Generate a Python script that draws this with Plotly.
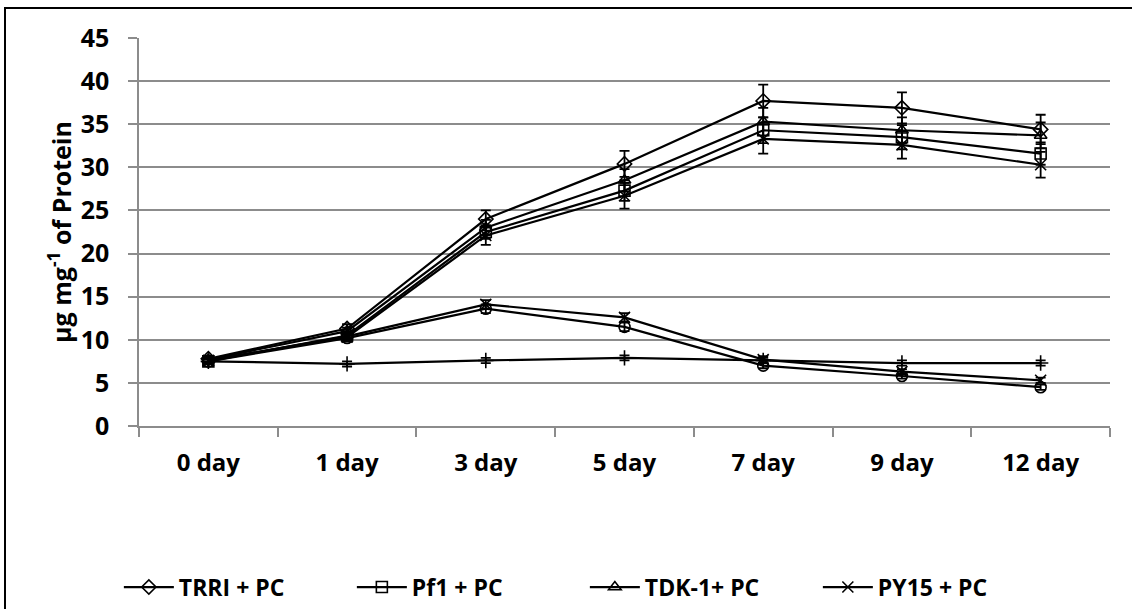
import plotly.graph_objects as go

days = ["0 day", "1 day", "3 day", "5 day", "7 day", "9 day", "12 day"]

trri_pc = [7.8, 11.3, 24.0, 30.4, 37.7, 36.9, 34.4]
trri_pc_err = [0.3, 0.5, 1.0, 1.5, 1.9, 1.8, 1.7]
pf1_pc = [7.5, 10.5, 22.5, 27.3, 34.3, 33.5, 31.6]
pf1_pc_err = [0.3, 0.4, 0.8, 1.2, 1.5, 1.4, 1.3]
tdk1_pc = [7.7, 11.0, 23.0, 28.5, 35.3, 34.3, 33.7]
tdk1_pc_err = [0.3, 0.4, 0.9, 1.3, 1.6, 1.5, 1.5]
py15_pc = [7.6, 10.3, 22.1, 26.7, 33.3, 32.6, 30.3]
py15_pc_err = [0.3, 0.4, 1.1, 1.5, 1.7, 1.6, 1.5]

lower_x = [7.6, 10.4, 14.1, 12.6, 7.7, 6.3, 5.3]
lower_x_err = [0.3, 0.4, 0.5, 0.5, 0.4, 0.3, 0.3]
lower_circle = [7.5, 10.2, 13.6, 11.5, 7.0, 5.8, 4.5]
lower_circle_err = [0.3, 0.4, 0.5, 0.5, 0.3, 0.3, 0.3]
control = [7.5, 7.2, 7.6, 7.9, 7.6, 7.3, 7.3]
control_err = [0.3, 0.3, 0.3, 0.3, 0.3, 0.3, 0.3]

y_ticks = [0, 5, 10, 15, 20, 25, 30, 35, 40, 45]

series = [
    ("TRRI + PC", trri_pc, trri_pc_err, "diamond-open", True),
    ("Pf1 + PC", pf1_pc, pf1_pc_err, "square-open", True),
    ("TDK-1+ PC", tdk1_pc, tdk1_pc_err, "triangle-up-open", True),
    ("PY15 + PC", py15_pc, py15_pc_err, "x-thin-open", True),
    ("series5", lower_x, lower_x_err, "x-thin-open", False),
    ("series6", lower_circle, lower_circle_err, "circle-open", False),
    ("series7", control, control_err, "cross-thin-open", False),
]

fig = go.Figure()
for name, vals, errs, sym, show in series:
    fig.add_trace(go.Scatter(
        x=days, y=vals, name=name, mode="lines+markers",
        showlegend=show,
        line=dict(color="black", width=2.2),
        marker=dict(symbol=sym, size=11, color="black",
                    line=dict(color="black", width=1.6)),
        error_y=dict(type="data", array=errs, visible=True,
                     color="black", thickness=1.8, width=5),
    ))

font_family = "Open Sans, Lato, DejaVu Sans, sans-serif"

W, H = 1132, 609
fig.update_layout(
    width=W, height=H,
    margin=dict(l=139, r=22, t=38, b=183, autoexpand=False),
    paper_bgcolor="white", plot_bgcolor="white",
    font=dict(family=font_family, color="black", size=22),
    showlegend=True,
    legend=dict(orientation="h", xref="container", yref="container",
                x=0.105, xanchor="left", y=0.036, yanchor="middle",
                font=dict(size=23, family=font_family, weight="bold"),
                entrywidth=168, itemwidth=50),
    xaxis=dict(type="category", tickson="boundaries", ticks="outside",
               ticklen=9, tickcolor="#8c8c8c", tickwidth=1.5,
               showline=True, linecolor="#8c8c8c", linewidth=1.5,
               showgrid=False, ticklabelstandoff=14,
               tickfont=dict(size=24, weight="bold", family=font_family),
               range=[-0.5, 6.5]),
    yaxis=dict(range=[0, 45], tickvals=y_ticks, ticks="outside",
               ticklen=9, tickcolor="#8c8c8c", tickwidth=1.5,
               showline=True, linecolor="#8c8c8c", linewidth=1.5,
               showgrid=True, gridcolor="#8c8c8c", gridwidth=1.5,
               zeroline=False, ticklabelstandoff=14,
               tickfont=dict(size=25, weight="bold", family=font_family),
               title=dict(text="μg mg<sup>-1</sup> of Protein",
                          font=dict(size=25, weight="bold", family=font_family),
                          standoff=2)),
    shapes=[dict(type="rect", xref="paper", yref="paper",
                 x0=-0.138, x1=1.05, y0=-0.7, y1=1.077,
                 line=dict(color="black", width=2), fillcolor="rgba(0,0,0,0)")],
)

fig.write_html("out.html", post_script="document.body.style.margin='0px';",
               config={"displayModeBar": False})
